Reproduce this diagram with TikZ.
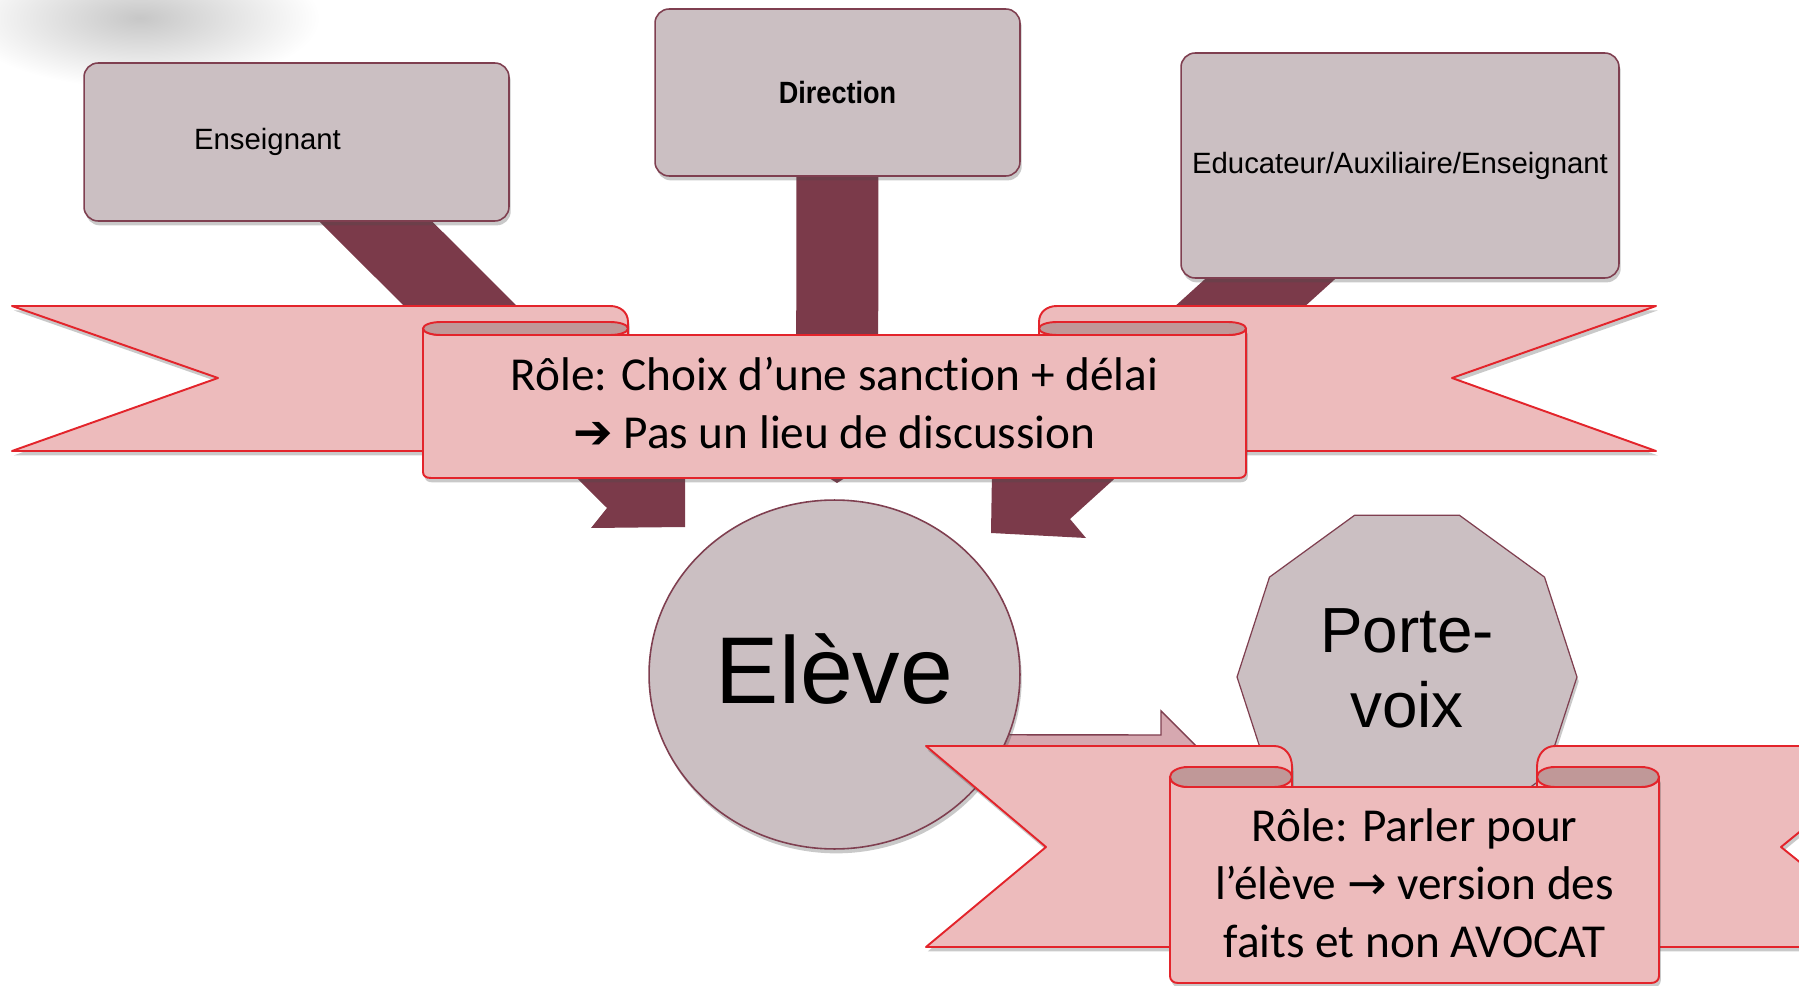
\documentclass[tikz,border=0pt]{standalone}
\usepackage{fontspec}
\setmainfont{Liberation Sans}
\newfontfamily\ribbonfont[Ligatures=NoCommon]{Carlito}
\newfontfamily\arrowfont{DejaVu Sans}
\usepackage{xcolor}
\usepackage{tikz}
\usetikzlibrary{calc}
\usetikzlibrary{shapes.geometric}
\usetikzlibrary{shadows}
\usetikzlibrary{backgrounds}

\definecolor{boxfill}{HTML}{CBBFC2}
\definecolor{boxline}{HTML}{7F3F50}
\definecolor{bandcol}{HTML}{7B3A4A}
\definecolor{ribfill}{HTML}{EDBBBC}
\definecolor{ribline}{HTML}{E3242B}
\definecolor{curlfill}{HTML}{C09898}
\definecolor{arrowfill}{HTML}{D6A8B0}

\tikzset{
	softshadow/.style={drop shadow={shadow xshift=1pt,shadow yshift=-2.5pt,opacity=0.3,fill=black!70}},
	rolebox/.style={draw=boxline,line width=0.9pt,fill=boxfill,rounded corners=8pt,softshadow,
		font=\fontsize{16.7}{20}\selectfont},
	band/.style={fill=bandcol,draw=none},
	voixarrow/.style={fill=arrowfill,draw=boxline,line width=0.8pt},
	ribbon/.style={fill=ribfill,draw=ribline,line width=1.1pt,line join=round,softshadow},
	curl/.style={fill=curlfill,draw=ribline,line width=1.1pt},
	ribbontext/.style={align=center,font=\ribbonfont\fontsize{26.9}{32.9}\selectfont},
}

% left x, right x, middle y, half height
\newcommand{\rollcap}[4]{%
	\filldraw[curl] (#1,#3)
	.. controls (#1,#3-0.55*#4) and (#1+8,#3-#4) .. (#1+18,#3-#4)
	-- (#2-18,#3-#4)
	.. controls (#2-8,#3-#4) and (#2,#3-0.55*#4) .. (#2,#3)
	.. controls (#2,#3+0.55*#4) and (#2-8,#3+#4) .. (#2-18,#3+#4)
	-- (#1+18,#3+#4)
	.. controls (#1+8,#3+#4) and (#1,#3+0.55*#4) .. (#1,#3) -- cycle;}

\begin{document}
\begin{tikzpicture}[x=0.02cm,y=-0.02cm]
	\useasboundingbox (0,0) rectangle (1799,986);
	\clip (0,0) rectangle (1799,986);
	
	\shade[inner color=black!22,outer color=white] (140,18) ellipse [x radius=3.6cm,y radius=1.4cm];
	
	\node[rolebox,minimum width=8.5cm,minimum height=3.16cm] (ens) at (296.5,142) {Enseignant\hspace*{1.16cm}};
	\node[rolebox,minimum width=7.3cm,minimum height=3.34cm] (dir) at (837.5,92.5) {\scalebox{0.88}[1]{\fontsize{17.5}{20}\selectfont\bfseries Direction}};
	\node[rolebox,minimum width=8.76cm,minimum height=4.5cm] (edu) at (1400,165.5) {Educateur/Auxiliaire/Enseignant};
	
	% ruban du haut
	\filldraw[ribbon] (12,306) -- (610,306) .. controls (620,306) and (628,312) .. (628,322)
		-- (628,451) -- (12,451) -- (218,378) -- cycle;
	\filldraw[ribbon] (1656,306) -- (1057,306) .. controls (1047,306) and (1039,312) .. (1039,322)
		-- (1039,451) -- (1656,451) -- (1452,378) -- cycle;
	\filldraw[ribbon] (423,328.5) -- (423,472) .. controls (423,476) and (426,478) .. (431,478)
		-- (1238,478) .. controls (1243,478) and (1246,476) .. (1246,472) -- (1246,328.5)
		.. controls (1246,332) and (1238,335) .. (1228,335) -- (441,335)
		.. controls (431,335) and (423,332) .. (423,328.5) -- cycle;
	\rollcap{423}{628}{328.5}{6.5}
	\rollcap{1039}{1246}{328.5}{6.5}
	\node[ribbontext] (role1) at (834.5,403) {R\^ole: Choix d’une sanction + d\'elai\\{\arrowfont ➔} Pas un lieu de discussion};
	
	\node[rolebox,ellipse,rounded corners=0pt,inner sep=0pt,minimum width=7.42cm,minimum height=6.98cm,
		font=\fontsize{54}{60}\selectfont] (eleve) at (834.5,674.5) {El\`eve\rule[-0.24cm]{0pt}{0pt}};
	\node[rolebox,regular polygon,regular polygon sides=10,rounded corners=0pt,inner sep=0pt,line width=0.7pt,
		minimum size=6.8cm,align=center,font=\fontsize{36.3}{42.5}\selectfont] (porte) at (1407,677) {Porte-\\voix\rule[-0.36cm]{0pt}{0pt}};
	
	% ruban du bas
	\filldraw[ribbon] (926,746) -- (1274,746) .. controls (1284,746) and (1292,754) .. (1292,767)
		-- (1292,947) -- (926,947) -- (1046,847) -- cycle;
	\filldraw[ribbon] (1905,746) -- (1555,746) .. controls (1545,746) and (1537,754) .. (1537,767)
		-- (1537,947) -- (1905,947) -- (1781,847) -- cycle;
	\filldraw[ribbon] (1170,777) -- (1170,976) .. controls (1170,980) and (1173,983) .. (1178,983)
		-- (1651,983) .. controls (1656,983) and (1659,980) .. (1659,976) -- (1659,777)
		.. controls (1659,782.5) and (1651,787) .. (1641,787) -- (1188,787)
		.. controls (1178,787) and (1170,782.5) .. (1170,777) -- cycle;
	\rollcap{1170}{1292}{777}{10}
	\rollcap{1537}{1659}{777}{10}
	\node[ribbontext] (role2) at (1414.5,883) {R\^ole: Parler pour\\l’\'el\`eve {\arrowfont →} version des\\faits et non AVOCAT};
	
	\coordinate (ensEnd) at (685,527);
	\coordinate (dirEnd) at (837,483);
	\coordinate (eduEnd) at (991,533);
	\coordinate (voixTip) at (1205,755);
	
	\begin{scope}[on background layer]
		\fill[band] ($(ens.south)+(17,-6)$) -- ($(ens.south)+(130,-6)$) -- ($(ensEnd)+(0,-53)$) -- (ensEnd)
			-- ($(ensEnd)+(-94,1)$) -- ($(ensEnd)+(-78,-19)$) -- cycle;
		\fill[band] ($(dir.south)+(-41,-10)$) -- ($(dir.south)+(41,-10)$) -- ($(dirEnd)+(41,-38)$)
			-- ($(dirEnd)+(61,-38)$) -- (dirEnd) -- ($(dirEnd)+(-61,-38)$) -- ($(dirEnd)+(-41,-38)$) -- cycle;
		\fill[band] ($(edu.south)+(-188,-6)$) -- ($(edu.south)+(-58,-6)$) -- ($(eduEnd)+(79,-14)$)
			-- ($(eduEnd)+(95,5)$) -- (eduEnd) -- ($(eduEnd)+(1,-61)$) -- cycle;
		\filldraw[voixarrow] ($(eleve.center)+(0,60)$) -- ($(voixTip)+(-44,-20)$) -- ($(voixTip)+(-44,-44)$)
			-- (voixTip) -- ($(voixTip)+(-44,44)$) -- ($(voixTip)+(-44,20)$) -- ($(eleve.center)+(0,100)$) -- cycle;
	\end{scope}
\end{tikzpicture}
\end{document}
